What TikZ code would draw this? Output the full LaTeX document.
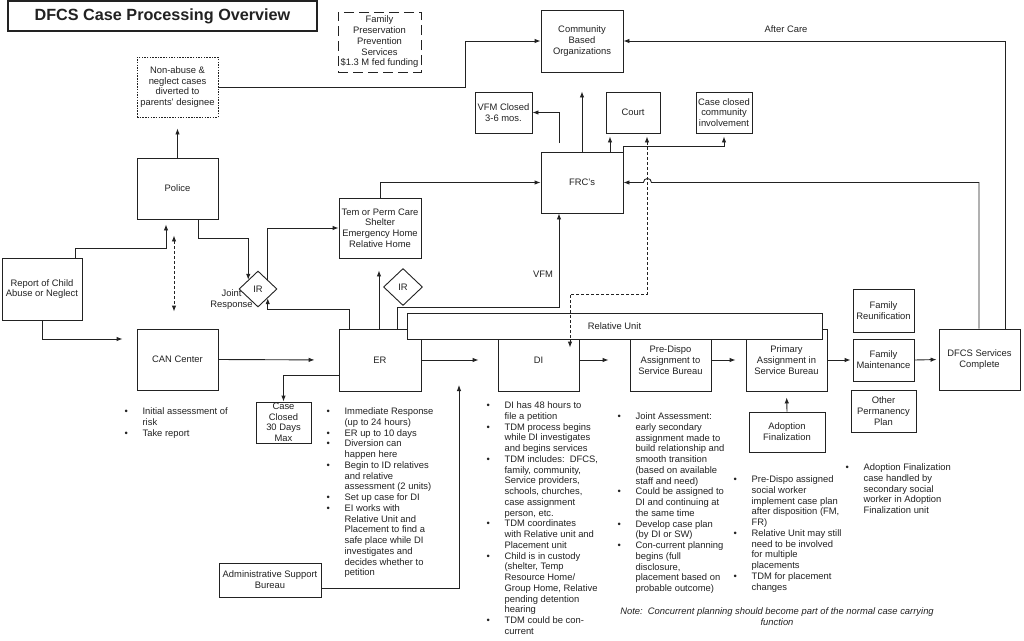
\documentclass[tikz,border=0pt]{standalone}
\usepackage{fontspec}
\setmainfont{Liberation Sans}
\usetikzlibrary{arrows.meta,shapes.geometric}
\definecolor{ink}{HTML}{222222}
\newcommand\tf{\fontsize{9.4}{10.75}\selectfont}
\newcommand\blist[1]{\begin{tabular}[t]{@{}p{18pt}@{}l@{}}#1\end{tabular}}
\begin{document}
\begin{tikzpicture}[x=1pt,y=-1pt,
  every node/.style={font=\tf, text=ink, inner sep=0pt},
  box/.style={draw=ink, line width=0.9pt, fill=white, align=center},
  irbox/.style={draw=ink, line width=0.9pt, fill=white, diamond, minimum width=38pt, minimum height=36pt},
  arr/.style={draw=ink, line width=0.9pt, -{Latex[length=6pt,width=4.5pt]}},
  darr/.style={draw=ink, line width=0.9pt, densely dashed, {Latex[length=6pt,width=4.5pt]}-{Latex[length=6pt,width=4.5pt]}},
  lst/.style={anchor=base west, align=left}]
\fill[white] (0,0) rectangle (1024,640);
\useasboundingbox (0,0) rectangle (1024,640);

% ---- boxes ----
\node[box, line width=1.1pt, minimum width=309pt, minimum height=30pt] (title) at (162.5,16) {\fontsize{16.2}{19}\selectfont\bfseries DFCS Case Processing Overview};
\node[box, minimum width=83pt, minimum height=60pt, dash pattern=on 10pt off 5pt] (fampres) at (379.5,42) {Family\\Preservation\\Prevention\\Services\\\$1.3 M fed funding};
\node[box, minimum width=81pt, minimum height=60pt, dash pattern=on 1.5pt off 1.2pt] (nonabuse) at (177.5,87) {Non-abuse \&\\neglect cases\\diverted to\\parents' designee};
\node[box, minimum width=82pt, minimum height=62pt] (community) at (582,41) {Community\\Based\\Organizations};
\node[box, minimum width=57pt, minimum height=41pt] (vfmclosed) at (503.5,112.5) {VFM Closed\\3-6 mos.};
\node[box, minimum width=54pt, minimum height=41pt] (court) at (633,112.5) {Court};
\node[box, minimum width=56pt, minimum height=41pt] (caseclosed) at (724,112.5) {Case closed\\community\\involvement};
\node[box, minimum width=82pt, minimum height=61pt] (frc) at (582,182.5) {FRC's};
\node[box, minimum width=81pt, minimum height=61pt] (police) at (177.5,188.5) {Police};
\node[box, minimum width=80pt, minimum height=62pt] (report) at (42,289) {Report of Child\\Abuse or Neglect};
\node[box, minimum width=82pt, minimum height=60pt] (tem) at (380,228) {Tem or Perm Care\\Shelter\\Emergency Home\\Relative Home};
\node[box, minimum width=81pt, minimum height=61pt] (can) at (177.5,359.5) {CAN Center};
\node[box, minimum width=82pt, minimum height=62pt] (er) at (380,360) {ER};
\node[box, minimum width=81pt, minimum height=62pt] (di) at (538.5,360) {DI};
\node[box, minimum width=81pt, minimum height=62pt] (predispo) at (670.5,360) {Pre-Dispo\\Assignment to\\Service Bureau};
\node[box, minimum width=81pt, minimum height=62pt] (primary) at (786.5,360) {Primary\\Assignment in\\Service Bureau};
\node[box, minimum width=415pt, minimum height=26pt] (relunit) at (614.5,326) {Relative Unit};
\node[box, minimum width=61pt, minimum height=43pt] (famreun) at (883.5,310.5) {Family\\Reunification};
\node[box, minimum width=61pt, minimum height=42pt] (fammaint) at (883.5,360) {Family\\Maintenance};
\node[box, minimum width=65pt, minimum height=42pt] (otherperm) at (883.5,411) {Other\\Permanency\\Plan};
\node[box, minimum width=81pt, minimum height=61pt] (dfcs) at (979.5,359.5) {DFCS Services\\Complete};
\node[box, minimum width=76pt, minimum height=40pt] (adoption) at (787,432) {Adoption\\Finalization};
\node[box, minimum width=55pt, minimum height=41pt, font=\fontsize{9.4}{10.5}\selectfont] (caseclosed30) at (283.5,422.5) {Case\\Closed\\30 Days\\Max};
\node[box, minimum width=102pt, minimum height=34pt] (admin) at (270,580) {Administrative Support\\Bureau};
\node[irbox] (ir1) at (258,289) {IR};
\node[irbox, minimum width=39pt, minimum height=37pt] (ir2) at (403,287) {IR};
\node[align=center] (jr) at (231.5,299.5) {Joint\\Response};

% ---- connectors ----
\draw[arr, shorten >=5pt] (report.north -| 75,0) |- (166,248) -- (police.south -| 166,0);
\draw[arr, shorten >=14pt] (report.south) |- ([yshift=20.5pt]can.west);
\draw[darr, shorten <=16pt, shorten >=17pt] (police.south -| 174,0) -- (can.north -| 174,0);
\draw[arr, shorten >=11pt] (police.north) -- (nonabuse.south);
\draw[arr] (nonabuse.east) -- (nonabuse.east -| 465,0) |- (community.west);
\draw[arr] (police.south -| 198,0) |- (ir1.north west |- 0,238) -- (ir1.north west);
\draw[arr] (ir1.north east) |- (tem.west);
\draw[arr] (er.north -| 349,0) |- (ir1.south east |- 0,309) -- (ir1.south east);
\draw[arr, shorten >=12pt] (er.north -| 379,0) -- (tem.south -| 379,0);
\draw[arr] (er.north -| 397,0) -- (397,307) -| (frc.south -| 559,0);
\node at (543,274) {VFM};
\draw[arr] (tem.north) |- (frc.west);
\draw[arr, shorten >=24pt] (can.east) -- (er.west);
\draw[arr, shorten >=19pt] (er.east) -- (di.west);
\draw[arr, shorten >=21pt] (di.east) -- (predispo.west);
\draw[arr, shorten >=10pt] (predispo.east) -- (primary.west);
\draw[arr, shorten >=2pt] (primary.east) -- (fammaint.west);
\draw[arr, shorten >=2pt] (fammaint.east) -- (dfcs.west);
\draw[arr] (dfcs.north -| 979,0) |- ([xshift=28pt]frc.east) .. controls ([xshift=28pt,yshift=5.3pt]frc.east) and ([xshift=20pt,yshift=5.3pt]frc.east) .. ([xshift=20pt]frc.east) -- (frc.east);
\draw[arr] (dfcs.north -| 1005,0) |- (community.east);
\node at (786,29) {After Care};
\draw[arr, shorten >=19pt] (frc.north) -- (community.south);
\coordinate (vfmfrom) at (559,143);
\draw[arr] (vfmfrom) |- (vfmclosed.east);
\draw[arr, shorten >=3pt] (frc.north -| 610,0) -- (court.south -| 610,0);
\draw[arr, shorten >=3pt] (frc.north east) |- (caseclosed.south |- 0,146) -- (caseclosed.south);
\draw[darr, shorten <=3pt] ([xshift=14pt]court.south) -- (647,294) -| ([xshift=31.5pt,yshift=-19pt]di.north);
\draw[arr] ([yshift=-15pt]er.west) -| (caseclosed30.north);
\coordinate (admintip) at (459,385);
\draw[arr] ([yshift=-8pt]admin.east) -| (admintip);
\draw[arr, shorten >=6pt] (adoption.north) -- (primary.south);

% ---- bullet lists ----
\node[lst] (canlist) at (124.4,414.5) {\blist{• & Initial assessment of\\ & risk\\ • & Take report}};
\node[lst] (erlist) at (326.4,414.5) {\blist{• & Immediate Response\\ & (up to 24 hours)\\
• & ER up to 10 days\\
• & Diversion can\\ & happen here\\
• & Begin to ID relatives\\ & and relative\\ & assessment (2 units)\\
• & Set up case for DI\\
• & EI works with\\ & Relative Unit and\\ & Placement to find a\\ & safe place while DI\\ & investigates and\\ & decides whether to\\ & petition}};
\node[lst] (dilist) at (486.4,408.5) {\blist{• & DI has 48 hours to\\ & file a petition\\
• & TDM process begins\\ & while DI investigates\\ & and begins services\\
• & TDM includes:\ \ DFCS,\\ & family, community,\\ & Service providers,\\ & schools, churches,\\ & case assignment\\ & person, etc.\\
• & TDM coordinates\\ & with Relative unit and\\ & Placement unit\\
• & Child is in custody\\ & (shelter, Temp\\ & Resource Home/\\ & Group Home, Relative\\ & pending detention\\ & hearing\\
• & TDM could be con-\\ & current}};
\node[lst] (jalist) at (617.4,419.5) {\blist{• & Joint Assessment:\\ & early secondary\\ & assignment made to\\ & build relationship and\\ & smooth transition\\ & (based on available\\ & staff and need)\\
• & Could be assigned to\\ & DI and continuing at\\ & the same time\\
• & Develop case plan\\ & (by DI or SW)\\
• & Con-current planning\\ & begins (full\\ & disclosure,\\ & placement based on\\ & probable outcome)}};
\node[lst] (pdlist) at (733.4,482.5) {\blist{• & Pre-Dispo assigned\\ & social worker\\ & implement case plan\\ & after disposition (FM,\\ & FR)\\
• & Relative Unit may still\\ & need to be involved\\ & for multiple\\ & placements\\
• & TDM for placement\\ & changes}};
\node[lst] (aflist) at (845.4,470.5) {\blist{• & Adoption Finalization\\ & case handled by\\ & secondary social\\ & worker in Adoption\\ & Finalization unit}};
\node[align=center, font=\tf\itshape] (note) at (777,616.5) {Note:\ \ Concurrent planning should become part of the normal case carrying\\function};
\end{tikzpicture}
\end{document}
